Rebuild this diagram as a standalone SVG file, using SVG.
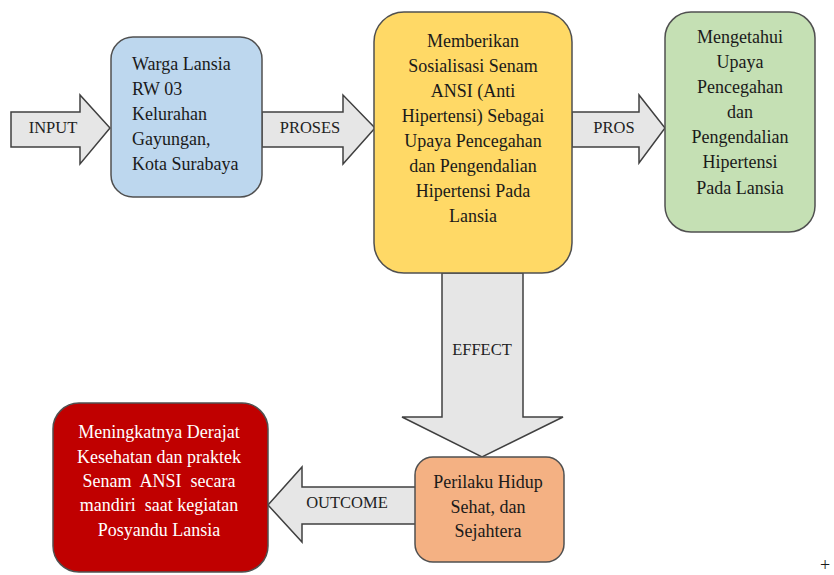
<svg xmlns="http://www.w3.org/2000/svg" width="834" height="575" viewBox="0 0 834 575">
<style>
  .arrow { fill: #e6e6e6; stroke: #404040; stroke-width: 1.5; stroke-linejoin: miter; }
  .box { stroke: #505050; stroke-width: 1.5; }
  .lbl { font-size: 16.5px; fill: #222; text-anchor: middle; }
  .txt { font-size: 18px; fill: #1a1a1a; }
  .mid { text-anchor: middle; }
  .white { fill: #ffffff; }
</style>
<rect width="834" height="575" fill="#ffffff"/>
<g font-family="Liberation Serif, DejaVu Serif, serif">
<g id="connectors">
  <g id="arrow-input">
    <polygon class="arrow" points="11,112 80,112 80,95 110,128 80,164 80,147 11,147"/>
    <text class="lbl" x="53" y="133">INPUT</text>
  </g>
  <g id="arrow-proses">
    <polygon class="arrow" points="262,112 343,112 343,95 375,128 343,164 343,147 262,147"/>
    <text class="lbl" x="310" y="133">PROSES</text>
  </g>
  <g id="arrow-pros">
    <polygon class="arrow" points="572,112 639,112 639,95 665,128 639,163 639,147 572,147"/>
    <text class="lbl" x="614" y="133">PROS</text>
  </g>
  <g id="arrow-effect">
    <polygon class="arrow" points="442,273 523,273 523,417 563,417 482,457 402,417 442,417"/>
    <text class="lbl" x="482" y="355">EFFECT</text>
  </g>
  <g id="arrow-outcome">
    <polygon class="arrow" points="416,487 302,487 302,467 268,505 302,542 302,524 416,524"/>
    <text class="lbl" x="347" y="508">OUTCOME</text>
  </g>
</g>
<g id="node-warga">
  <rect class="box" x="111" y="37" width="151" height="160" rx="22" fill="#bdd7ee"/>
  <text class="txt" x="132" y="70">Warga Lansia</text>
  <text class="txt" x="132" y="95">RW 03</text>
  <text class="txt" x="132" y="120">Kelurahan</text>
  <text class="txt" x="132" y="145">Gayungan,</text>
  <text class="txt" x="132" y="170">Kota Surabaya</text>
</g>
<g id="node-sosialisasi">
  <rect class="box" x="374" y="12" width="198" height="261" rx="30" fill="#ffd966"/>
  <text class="txt mid" x="473" y="47">Memberikan</text>
  <text class="txt mid" x="473" y="72">Sosialisasi Senam</text>
  <text class="txt mid" x="473" y="97">ANSI (Anti</text>
  <text class="txt mid" x="473" y="122">Hipertensi) Sebagai</text>
  <text class="txt mid" x="473" y="147">Upaya Pencegahan</text>
  <text class="txt mid" x="473" y="172">dan Pengendalian</text>
  <text class="txt mid" x="473" y="197">Hipertensi Pada</text>
  <text class="txt mid" x="473" y="222">Lansia</text>
</g>
<g id="node-mengetahui">
  <rect class="box" x="665" y="12" width="150" height="220" rx="26" fill="#c5e0b4"/>
  <text class="txt mid" x="740" y="43">Mengetahui</text>
  <text class="txt mid" x="740" y="68">Upaya</text>
  <text class="txt mid" x="740" y="93">Pencegahan</text>
  <text class="txt mid" x="740" y="118">dan</text>
  <text class="txt mid" x="740" y="143">Pengendalian</text>
  <text class="txt mid" x="740" y="168">Hipertensi</text>
  <text class="txt mid" x="740" y="194">Pada Lansia</text>
</g>
<g id="node-perilaku">
  <rect class="box" x="415" y="457" width="149" height="105" rx="18" fill="#f4b183"/>
  <text class="txt mid" x="488" y="488">Perilaku Hidup</text>
  <text class="txt mid" x="488" y="513">Sehat, dan</text>
  <text class="txt mid" x="488" y="537">Sejahtera</text>
</g>
<g id="node-meningkatnya">
  <rect class="box" x="53" y="403" width="215" height="169" rx="26" fill="#c00000"/>
  <text class="txt mid white" x="159" y="438">Meningkatnya Derajat</text>
  <text class="txt mid white" x="159" y="463">Kesehatan dan praktek</text>
  <text class="txt mid white" x="159" y="487" xml:space="preserve">Senam  ANSI  secara</text>
  <text class="txt mid white" x="159" y="511" xml:space="preserve">mandiri  saat kegiatan</text>
  <text class="txt mid white" x="159" y="536">Posyandu Lansia</text>
</g>
<text class="txt" x="825" y="571" text-anchor="middle" font-size="17">+</text>
</g>
</svg>
